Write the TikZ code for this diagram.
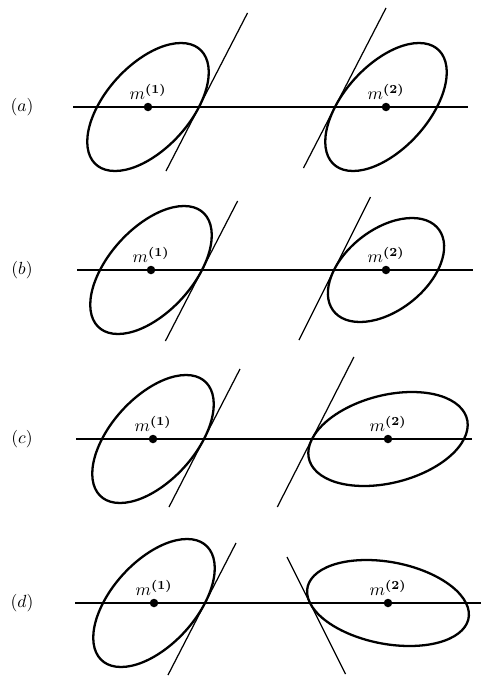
\documentclass[tikz,border=0pt]{standalone}
\usepackage{amsmath,amssymb}
\usepackage{bm}
\usepackage{tikz}
\usetikzlibrary{positioning}

\begin{document}
\begin{tikzpicture}[
  x=0.02cm, y=-0.02cm,
  axis/.style={line width=0.7pt},
  tang/.style={line width=0.7pt},
  contour/.style={line width=1.3pt},
  mean/.style={circle,fill,inner sep=0pt,minimum size=0.17cm},
  mlabel/.style={inner sep=0pt,font=\normalsize},
  rowlabel/.style={inner sep=0pt,font=\normalsize},
]

\useasboundingbox (0,0) rectangle (481,676);

%% ── Row (a): equal covariances ───────────────────────────────────────────
\coordinate (wa) at (73,107);
\coordinate (ea) at (468,107);
\draw[axis] (wa) -- (ea);
\node[rowlabel] (rowa) at (22,107) {$(a)$};
\node[mean] (m1a) at (148,107) {};
\node[mean] (m2a) at (386,107) {};
\node[mlabel,above=1.5pt of m1a] (t1a) {$m^{\bm{(1)}}$};
\node[mlabel,above=1.5pt of m2a] (t2a) {$m^{\bm{(2)}}$};
\draw[contour,cm={51,0,33,64,(m1a)}] (0,0) circle (1);
\draw[contour,cm={51,0,33,64,(m2a)}] (0,0) circle (1);
\draw[tang] (166,171) -- (247.5,13);
\draw[tang] (303.5,168) -- (386,8);

%% ── Row (b): smaller second contour ──────────────────────────────────────
\coordinate (wb) at (77,270);
\coordinate (eb) at (473,270);
\draw[axis] (wb) -- (eb);
\node[rowlabel] (rowb) at (22,270) {$(b)$};
\node[mean] (m1b) at (151,270) {};
\node[mean] (m2b) at (386,270) {};
\node[mlabel,above=1.5pt of m1b] (t1b) {$m^{\bm{(1)}}$};
\node[mlabel,above=1.5pt of m2b] (t2b) {$m^{\bm{(2)}}$};
\draw[contour,cm={51,0,33,64,(m1b)}] (0,0) circle (1);
\draw[contour,cm={52,0,26,52,(m2b)}] (0,0) circle (1);
\draw[tang] (165.4,341) -- (237.6,201);
\draw[tang] (299,340) -- (370.5,197);

%% ── Row (c): wider second contour ────────────────────────────────────────
\coordinate (wc) at (76,439);
\coordinate (ec) at (472,439);
\draw[axis] (wc) -- (ec);
\node[rowlabel] (rowc) at (22,439) {$(c)$};
\node[mean] (m1c) at (153,439) {};
\node[mean] (m2c) at (388,439) {};
\node[mlabel,above=1.5pt of m1c] (t1c) {$m^{\bm{(1)}}$};
\node[mlabel,above=1.5pt of m2c] (t2c) {$m^{\bm{(2)}}$};
\draw[contour,cm={51,0,33,64,(m1c)}] (0,0) circle (1);
\draw[contour,cm={76,0,24,47,(m2c)}] (0,0) circle (1);
\draw[tang] (169,507) -- (240,369);
\draw[tang] (277.3,507) -- (353.9,357);

%% ── Row (d): second contour tilted the other way ─────────────────────────
\coordinate (wd) at (75,603);
\coordinate (ed) at (481,603);
\draw[axis] (wd) -- (ed);
\node[rowlabel] (rowd) at (22,603) {$(d)$};
\node[mean] (m1d) at (154,603) {};
\node[mean] (m2d) at (388,603) {};
\node[mlabel,above=1.5pt of m1d] (t1d) {$m^{\bm{(1)}}$};
\node[mlabel,above=1.5pt of m2d] (t2d) {$m^{\bm{(2)}}$};
\draw[contour,cm={51,0,33,64,(m1d)}] (0,0) circle (1);
\draw[contour,cm={78,0,-21.5,43,(m2d)}] (0,0) circle (1);
\draw[tang] (168,675) -- (236,543);
\draw[tang] (287,557) -- (345.5,674);

\end{tikzpicture}
\end{document}
